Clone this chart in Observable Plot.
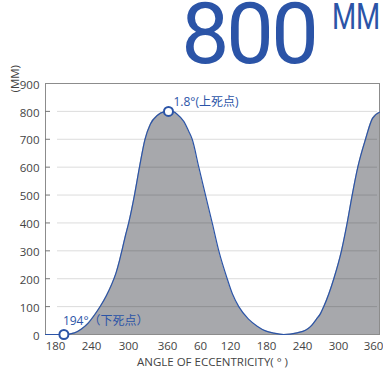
<!DOCTYPE html>
<html><head><meta charset="utf-8">
<script src="https://cdn.jsdelivr.net/npm/d3@7"></script>
<script src="https://cdn.jsdelivr.net/npm/@observablehq/plot@0.6"></script>
<style>
@font-face{font-family:"TitleRoboto";src:local("Roboto"),local("Roboto Regular"),local("Roboto-Regular");ascent-override:72%;descent-override:20%;line-gap-override:0%}
body{margin:0;background:#fff}
#title{position:relative;width:383px;height:70px;color:#2b54a7;font-family:"TitleRoboto",Roboto,sans-serif}
#num{position:absolute;left:181px;top:2px;font-size:85px;line-height:normal;letter-spacing:-3px;white-space:nowrap}
#unit{position:absolute;left:332px;top:3px;font-size:36px;line-height:normal;white-space:nowrap;transform:scaleX(0.77);transform-origin:0 0}
</style>
</head><body>
<div id="title"><span id="num"></span><span id="unit"></span></div>
<div id="chart"></div>
<script>
// ---- data ----
const angles = [163.3, 194, 211.7, 223.3, 235, 244.9, 254.6, 264.3, 272.4, 279.7, 285.4, 290.3, 295.1, 300.3, 309.2, 316.9, 325.4, 333.8, 344.2, 354.3, 361.8, 371.5, 377.6, 389.6, 398.7, 404.9, 416.9, 430, 443.4, 456.6, 473.4, 483.3, 493.8, 510, 524.5, 538.3, 552.2, 568.8, 591.2, 605, 613.3, 623.3, 630, 635.5, 652.2, 665.1, 674.9, 683.5, 693.1, 706.3, 718.3, 730.3];
const strokeMM = [0, 0, 6, 20, 42, 70, 102, 140, 178, 220, 265, 310, 355, 400, 500, 600, 700, 755, 785, 798, 800, 798, 790, 764, 728, 700, 600, 500, 400, 300, 200, 145, 100, 55, 30, 13, 5, 0, 6, 15, 28, 55, 75, 100, 200, 300, 400, 500, 600, 700, 775, 797];
const markAngles = [194, 361.8];
const markMM = [0, 800];
const markLabels = ["194°（下死点）", "1.8°(上死点)"];
const xTicks = [180, 240, 300, 360, 420, 480, 540, 600, 660, 720];
const xTickLabels = ["180", "240", "300", "360", "60", "120", "180", "240", "300", "360"];
const yTicks = [0, 100, 200, 300, 400, 500, 600, 700, 800, 900];
const gridTicks = [100, 200, 300, 400, 500, 600, 700, 800];
const xTitle = "ANGLE OF ECCENTRICITY( ° )";
const yTitle = "(MM)";
const bigNumber = "800";
const bigUnit = "MM";

// ---- build ----
document.getElementById("num").textContent = bigNumber;
document.getElementById("unit").textContent = bigUnit;

const blue = "#2b54a7";
const font = "'Open Sans', 'Noto Sans CJK JP', sans-serif";
const data = angles.map((a, i) => ({angle: a, mm: strokeMM[i]}));
const points = markAngles.map((a, i) => ({angle: a, mm: markMM[i], label: markLabels[i]}));
const xLabelMap = new Map(xTicks.map((t, i) => [t, xTickLabels[i]]));

const chart = Plot.plot({
  width: 383, height: 302,
  marginLeft: 45, marginRight: 4, marginTop: 13, marginBottom: 38,
  style: {fontFamily: font, fontSize: "11.5px", color: "#444", background: "#fff", overflow: "visible", display: "block"},
  x: {type: "linear", domain: [163.3, ...xTicks, 730.3], range: [45, 55, 91, 128, 167, 200, 230, 266, 302, 338, 373, 379]},
  y: {domain: [0, 900]},
  marks: [
    Plot.areaY(data, {x: "angle", y: "mm", fill: "#a7a8ac", curve: "monotone-x"}),
    Plot.gridY({ticks: gridTicks, stroke: "#000", strokeOpacity: 0.14, insetLeft: 12, insetRight: 2}),
    Plot.frame({stroke: "#8c8c8c"}),
    Plot.axisY({ticks: gridTicks, tickSize: 5, dx: 5, tickFormat: () => "", label: null, stroke: "#777"}),
    Plot.axisY({ticks: yTicks, tickSize: 0, tickPadding: 6, dy: 1.5, label: null}),
    Plot.axisX({ticks: xTicks, tickSize: 0, tickPadding: 7, tickFormat: d => xLabelMap.get(d), label: null}),
    Plot.lineY(data, {x: "angle", y: "mm", stroke: blue, strokeWidth: 1.2, curve: "monotone-x"}),
    Plot.dot(points, {x: "angle", y: "mm", r: 4.5, fill: "white", stroke: blue, strokeWidth: 2}),
    Plot.text(points.slice(0, 1), {x: "angle", y: "mm", text: "label", textAnchor: "start", dx: -1, dy: -13.5, fill: blue, fontSize: 12}),
    Plot.text(points.slice(1), {x: "angle", y: "mm", text: "label", textAnchor: "start", dx: 5, dy: -9, fill: blue, fontSize: 12}),
    Plot.text([xTitle], {frameAnchor: "bottom", dy: 31, fill: "#444"}),
    Plot.text([yTitle], {frameAnchor: "top-left", dx: -35, dy: 9, rotate: -90, fill: "#444"})
  ]
});
document.getElementById("chart").appendChild(chart);
</script>
</body></html>
